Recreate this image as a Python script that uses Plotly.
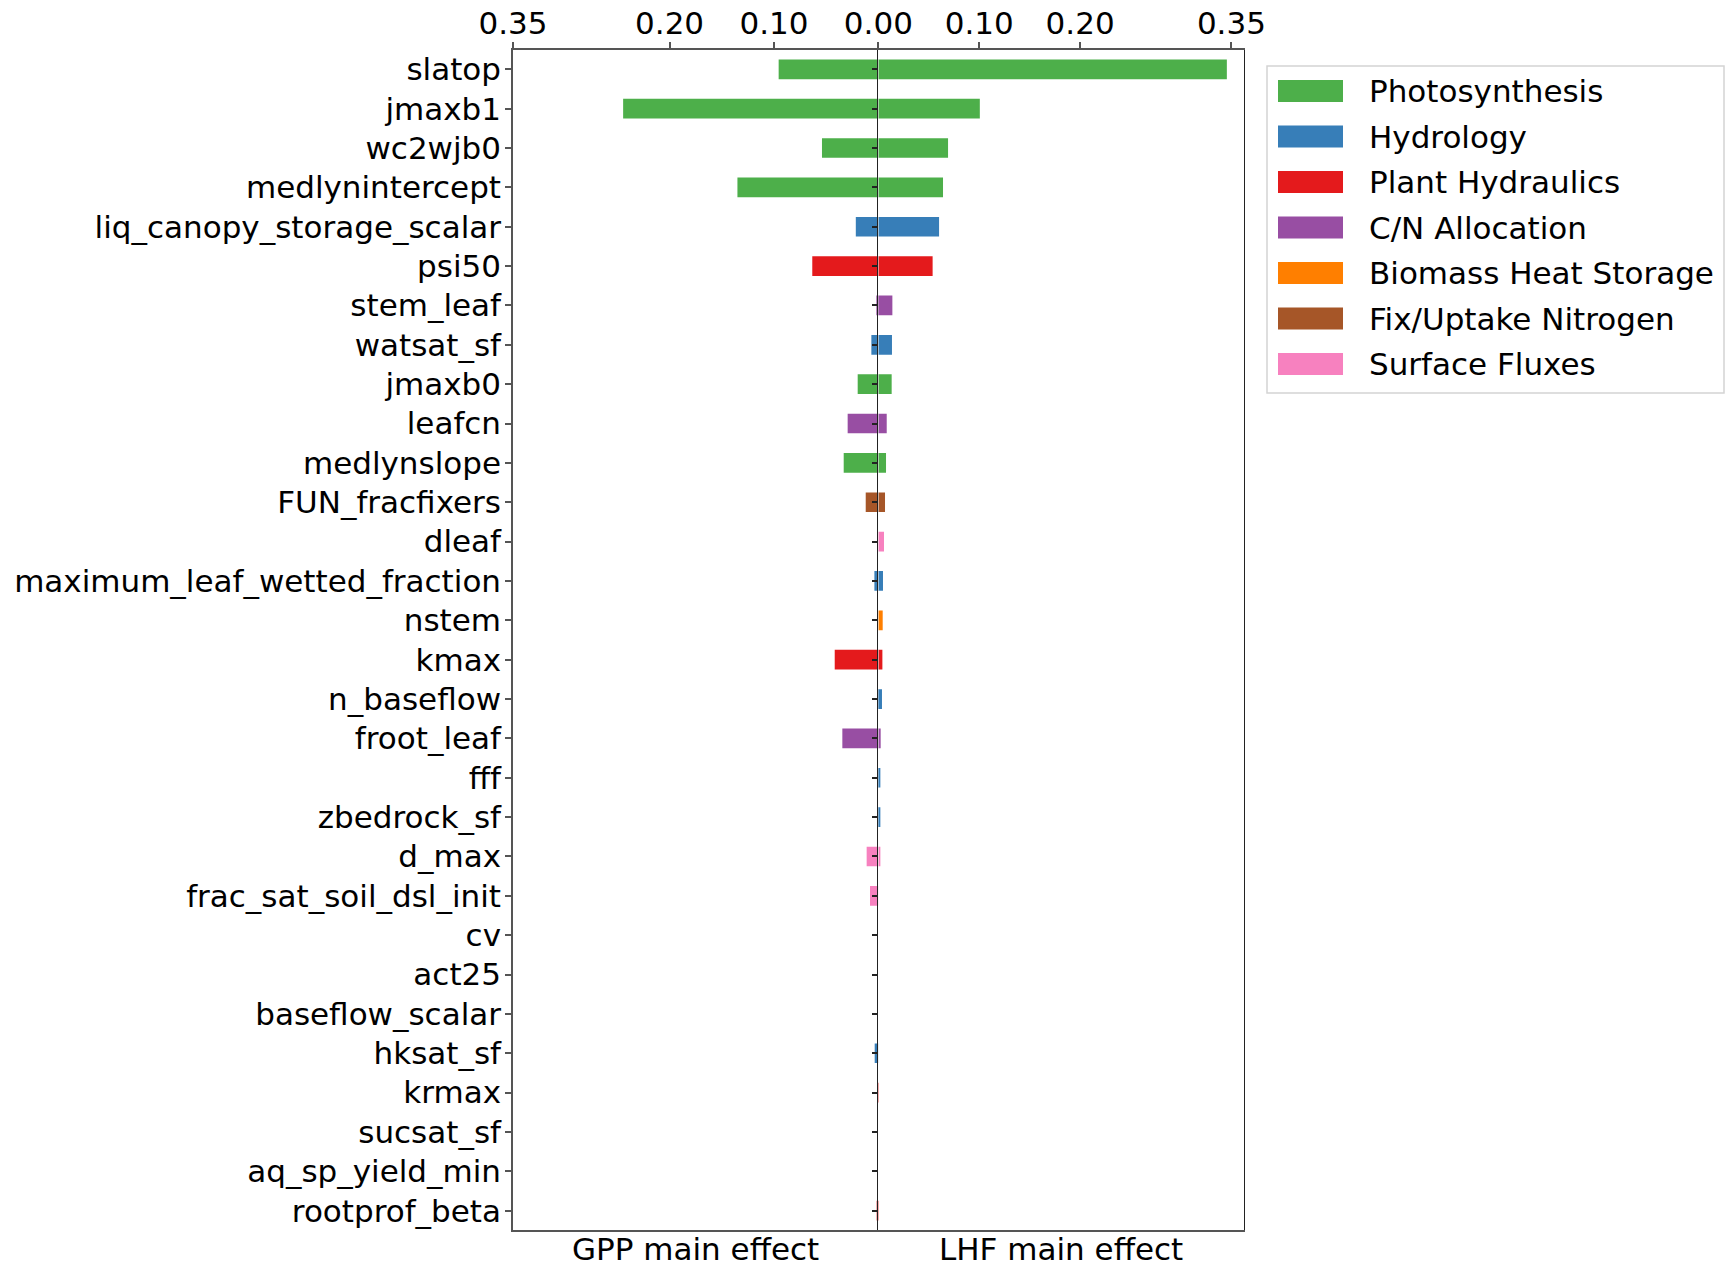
import plotly.graph_objects as go

params = ["slatop", "jmaxb1", "wc2wjb0", "medlynintercept", "liq_canopy_storage_scalar",
          "psi50", "stem_leaf", "watsat_sf", "jmaxb0", "leafcn", "medlynslope",
          "FUN_fracfixers", "dleaf", "maximum_leaf_wetted_fraction", "nstem", "kmax",
          "n_baseflow", "froot_leaf", "fff", "zbedrock_sf", "d_max",
          "frac_sat_soil_dsl_init", "cv", "act25", "baseflow_scalar", "hksat_sf",
          "krmax", "sucsat_sf", "aq_sp_yield_min", "rootprof_beta"]

gpp_effect = [0.0955, 0.2445, 0.054, 0.135, 0.0216, 0.0633, 0.0019, 0.0067, 0.0198, 0.0294,
              0.0332, 0.0121, 0.0, 0.0038, 0.0, 0.0418, 0.0003, 0.0345, 0.0010, 0.0006,
              0.0112, 0.0080, 0.0, 0.0, 0.0, 0.0035, 0.0005, 0.0, 0.0, 0.0016]

lhf_effect = [0.3455, 0.1006, 0.0691, 0.0641, 0.0602, 0.0538, 0.0139, 0.0135, 0.0132, 0.0083,
              0.0076, 0.0066, 0.0056, 0.0046, 0.0043, 0.0040, 0.0036, 0.0023, 0.0013, 0.0010,
              0.0010, 0.0, 0.0, 0.0, 0.0, 0.0, 0.0, 0.0, 0.0, 0.0]

param_group = ["Photosynthesis", "Photosynthesis", "Photosynthesis", "Photosynthesis", "Hydrology",
               "Plant Hydraulics", "C/N Allocation", "Hydrology", "Photosynthesis", "C/N Allocation",
               "Photosynthesis", "Fix/Uptake Nitrogen", "Surface Fluxes", "Hydrology",
               "Biomass Heat Storage", "Plant Hydraulics", "Hydrology", "C/N Allocation",
               "Hydrology", "Hydrology", "Surface Fluxes", "Surface Fluxes", "Biomass Heat Storage",
               "Photosynthesis", "Hydrology", "Hydrology", "Plant Hydraulics", "Hydrology",
               "Hydrology", "Plant Hydraulics"]

groups = ["Photosynthesis", "Hydrology", "Plant Hydraulics", "C/N Allocation",
          "Biomass Heat Storage", "Fix/Uptake Nitrogen", "Surface Fluxes"]
group_colors = ["#4daf4a", "#377eb8", "#e41a1c", "#984ea3", "#ff7f00", "#a65628", "#f781bf"]

left_ticks = [-0.35, -0.20, -0.10, 0.0]
left_ticktext = ["0.35", "0.20", "0.10", "0.00"]
right_ticks = [0.10, 0.20, 0.35]
right_ticktext = ["0.10", "0.20", "0.35"]

color_of = dict(zip(groups, group_colors))
bar_colors = [color_of[g] for g in param_group]

W, H = 1726, 1266
ML, MR, MT, MB = 513, 482, 50, 36
FONT = "DejaVu Sans"
FS = 31
SPINE = "#555555"

fig = go.Figure()
fig.add_trace(go.Bar(
    x=[-v for v in gpp_effect], y=params, orientation="h", width=0.5,
    marker=dict(color=bar_colors, line=dict(width=0)),
    xaxis="x", yaxis="y", showlegend=False, hoverinfo="x+y"))
fig.add_trace(go.Bar(
    x=lhf_effect, y=params, orientation="h", width=0.5,
    marker=dict(color=bar_colors, line=dict(width=0)),
    xaxis="x2", yaxis="y2", showlegend=False, hoverinfo="x+y"))

yr = [29.49, -0.49]
fig.update_layout(
    width=W, height=H,
    margin=dict(l=ML, r=MR, t=MT, b=MB, pad=0, autoexpand=False),
    paper_bgcolor="white", plot_bgcolor="white",
    font=dict(family=FONT, size=FS, color="black"),
    bargap=0.5,
    xaxis=dict(domain=[0, 0.4998], range=[-0.35, 0], side="top", automargin=False,
               tickvals=left_ticks, ticktext=left_ticktext,
               ticks="outside", ticklen=6, tickwidth=1.5, tickcolor=SPINE,
               showline=True, linecolor=SPINE, linewidth=1.6, mirror=True,
               showgrid=False, zeroline=False, anchor="y", ticklabelstandoff=-4,
               tickfont=dict(family=FONT, size=FS, color="black")),
    xaxis2=dict(domain=[0.4998, 1], range=[0, 0.3625], side="top", automargin=False,
                tickvals=right_ticks, ticktext=right_ticktext,
                ticks="outside", ticklen=6, tickwidth=1.5, tickcolor=SPINE,
                showline=True, linecolor=SPINE, linewidth=1.6, mirror=True,
                showgrid=False, zeroline=False, anchor="y2", ticklabelstandoff=-4,
                tickfont=dict(family=FONT, size=FS, color="black")),
    yaxis=dict(type="category", range=yr, anchor="x", automargin=False,
               ticks="outside", ticklen=6, tickwidth=1.5, tickcolor=SPINE,
               showline=True, linecolor=SPINE, linewidth=1.6,
               showgrid=False, zeroline=False, ticklabelstandoff=-2,
               tickfont=dict(family=FONT, size=FS, color="black")),
    yaxis2=dict(type="category", range=yr, anchor="x2", automargin=False,
                ticks="outside", ticklen=5, tickwidth=1.5, tickcolor="#222222",
                showline=True, linecolor="#222222", linewidth=1.3, mirror=True,
                showticklabels=False, showgrid=False, zeroline=False),
)

fig.add_annotation(text="GPP main effect", x=0.5, xref="x domain", y=0, yref="y domain",
                   xanchor="center", yanchor="top", yshift=1, showarrow=False,
                   font=dict(family=FONT, size=FS, color="black"))
fig.add_annotation(text="LHF main effect", x=0.5, xref="x2 domain", y=0, yref="y2 domain",
                   xanchor="center", yanchor="top", yshift=1, showarrow=False,
                   font=dict(family=FONT, size=FS, color="black"))

# Legend (drawn manually to match the wide matplotlib patches)
pw, ph = W - ML - MR, H - MT - MB
def px2x(px):
    return (px - ML) / pw
def px2y(py):
    return (H - MB - py) / ph

fig.add_shape(type="rect", xref="paper", yref="paper",
              x0=px2x(1267), x1=px2x(1724), y0=px2y(393), y1=px2y(66),
              line=dict(color="#d4d4d4", width=1.5), fillcolor="white", layer="below")
for i, (g, c) in enumerate(zip(groups, group_colors)):
    yc = 91 + i * 45.5
    fig.add_shape(type="rect", xref="paper", yref="paper",
                  x0=px2x(1278), x1=px2x(1343), y0=px2y(yc + 11), y1=px2y(yc - 11),
                  line=dict(width=0), fillcolor=c)
    fig.add_annotation(text=g, xref="paper", yref="paper", x=px2x(1367), y=px2y(yc),
                       xanchor="left", yanchor="middle", showarrow=False,
                       font=dict(family=FONT, size=FS, color="black"))

fig.write_html("out.html", config={"displayModeBar": False},
               post_script="document.body.style.margin='0';document.body.style.overflow='hidden';")
